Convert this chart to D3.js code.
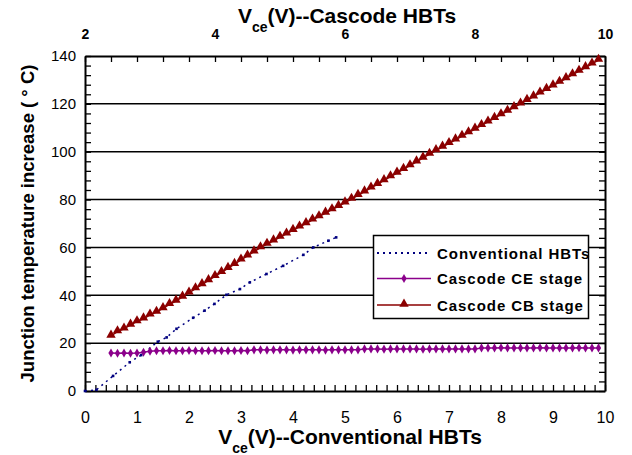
<!DOCTYPE html>
<html>
<head>
<meta charset="utf-8">
<script src="https://cdn.jsdelivr.net/npm/d3@7"></script>
<style>
  body { margin: 0; background: #fff; }
  svg { font-family: "Liberation Sans", Arial, sans-serif; }
</style>
</head>
<body>
<svg id="chart" width="632" height="455"></svg>
<script>
// conventional HBTs, plotted on bottom axis
var convVce  = [0, 0.22, 0.54, 0.86, 1.08, 1.4, 1.57, 1.76, 2.08, 2.3, 2.49, 2.72, 2.98, 3.17, 3.49, 3.81, 4.2, 4.39, 4.68, 4.83];
var convTemp = [0, 0.5, 6.3, 12, 15, 20.6, 22.4, 26, 30.6, 33.6, 36.4, 40.2, 42.6, 45.4, 48.9, 52.3, 56.9, 60, 62.8, 64.2];

// cascode HBTs, plotted on top axis
var cascVce = [2.4, 2.5, 2.6, 2.7, 2.8, 2.9, 3.0, 3.1, 3.2, 3.3, 3.4, 3.5,
  3.6, 3.7, 3.8, 3.9, 4.0, 4.1, 4.2, 4.3, 4.4, 4.5, 4.6, 4.7,
  4.8, 4.9, 5.0, 5.1, 5.2, 5.3, 5.4, 5.5, 5.6, 5.7, 5.8, 5.9,
  6.0, 6.1, 6.2, 6.3, 6.4, 6.5, 6.6, 6.7, 6.8, 6.9, 7.0, 7.1,
  7.2, 7.3, 7.4, 7.5, 7.6, 7.7, 7.8, 7.9, 8.0, 8.1, 8.2, 8.3,
  8.4, 8.5, 8.6, 8.7, 8.8, 8.9, 9.0, 9.1, 9.2, 9.3, 9.4, 9.5,
  9.6, 9.7, 9.8, 9.9];
var ceTemp = [15.9, 15.8, 15.9, 15.8, 15.9, 16.2, 16.6, 16.8,
  16.8, 16.9, 16.8, 16.8, 16.9, 16.8, 16.8, 16.8, 16.9, 16.8, 16.8, 16.8, 16.9, 16.8,
  17.2, 17.2, 17.1, 17.2, 17.2, 17.2, 17.1, 17.2, 17.2, 17.2, 17.2, 17.1, 17.2, 17.2, 17.2, 17.2, 17.2,
  17.6, 17.6, 17.6, 17.5, 17.6, 17.6, 17.6, 17.6, 17.6, 17.5, 17.6, 17.6, 17.6, 17.6, 17.6, 17.6, 17.6, 17.6,
  18.0, 18.0, 18.0, 18.1, 18.0, 18.0, 18.0, 18.0, 18.0, 18.1, 18.0, 18.0, 18.0, 18.0, 18.0, 18.1, 18.0, 18.0, 18.0];
var cbTemp = [23.0, 24.8, 26.0, 27.6, 29.0, 30.2, 31.8, 33.0, 34.5, 36.2, 37.6, 39.3,
  41.0, 42.8, 44.5, 46.2, 47.9, 49.6, 51.3, 53.0, 54.8, 56.5, 58.2, 59.9,
  61.4, 62.8, 64.3, 65.7, 67.2, 68.6, 70.0, 71.5, 72.9, 74.4, 75.8, 77.2,
  78.7, 80.2, 81.8, 83.3, 84.9, 86.4, 88.0, 89.6, 91.1, 92.7, 94.2, 95.8,
  97.4, 99.0, 100.5, 102.0, 103.5, 105.0, 106.5, 108.0, 109.5, 111.0, 112.5, 114.0,
  115.5, 117.0, 118.5, 120.0, 121.5, 123.0, 124.6, 126.1, 127.6, 129.1, 130.6, 132.2,
  133.7, 135.2, 136.7, 138.3];

var bottomTicks = [0, 1, 2, 3, 4, 5, 6, 7, 8, 9, 10];
var topTicks = [2, 4, 6, 8, 10];
var yTicks = [0, 20, 40, 60, 80, 100, 120, 140];
var gridVals = [20, 40, 60, 80, 100, 120];
var legendNames = ["Conventional HBTs", "Cascode CE stage", "Cascode CB stage"];

var svg = d3.select("#chart");
var L = 85, R = 605, T = 56, B = 391;

var x = d3.scaleLinear().domain([0, 10]).range([L, R]);
var xTop = d3.scaleLinear().domain([2, 10]).range([L, R]);
var y = d3.scaleLinear().domain([0, 140]).range([B, T]);

// grid lines
svg.append("g").selectAll("line")
  .data(gridVals)
  .enter().append("line")
    .attr("x1", L).attr("x2", R)
    .attr("y1", function(d){ return y(d); })
    .attr("y2", function(d){ return y(d); })
    .attr("stroke", "#000")
    .attr("stroke-width", 1.5);

// minor tick lists (inward ticks)
var bottomMinor = d3.range(0, 10.001, 0.2);
var topMinor = d3.range(2, 10.001, 0.4);
var yMinor = d3.range(0, 140.001, 4);

function styleAxis(g){
  g.select(".domain").attr("stroke-width", 2);
  g.selectAll(".tick line").attr("stroke-width", 1.3);
  g.selectAll("text").attr("fill", "#000");
}

var gb = svg.append("g").attr("transform", "translate(0," + B + ")")
  .call(d3.axisBottom(x).tickValues(bottomMinor).tickSizeInner(-6).tickSizeOuter(0).tickPadding(21)
    .tickFormat(function(d){ return bottomTicks.indexOf(Math.round(d*10)/10) >= 0 ? d3.format("d")(d) : ""; }))
  .attr("font-size", 16);
styleAxis(gb);

var gt = svg.append("g").attr("transform", "translate(0," + T + ")")
  .call(d3.axisTop(xTop).tickValues(topMinor).tickSizeInner(-6).tickSizeOuter(0).tickPadding(17)
    .tickFormat(function(d){ return topTicks.indexOf(Math.round(d*10)/10) >= 0 ? d3.format("d")(d) : ""; }))
  .attr("font-size", 14).attr("font-weight", "bold");
styleAxis(gt);

var gl = svg.append("g").attr("transform", "translate(" + L + ",0)")
  .call(d3.axisLeft(y).tickValues(yMinor).tickSizeInner(-6).tickSizeOuter(0).tickPadding(9)
    .tickFormat(function(d){ return yTicks.indexOf(Math.round(d)) >= 0 ? d : ""; }))
  .attr("font-size", 15);
styleAxis(gl);

var gr = svg.append("g").attr("transform", "translate(" + R + ",0)")
  .call(d3.axisRight(y).tickValues(yMinor).tickSizeInner(-6).tickSizeOuter(0).tickFormat(""));
styleAxis(gr);

// conventional HBTs
var convData = convVce.map(function(v, i){ return [v, convTemp[i]]; });
var convLine = d3.line().x(function(d){ return x(d[0]); }).y(function(d){ return y(d[1]); });
svg.append("path").datum(convData)
  .attr("d", convLine)
  .attr("fill", "none").attr("stroke", "#000080")
  .attr("stroke-width", 1.5).attr("stroke-dasharray", "2,4");
svg.append("g").selectAll("rect").data(convData).enter().append("rect")
  .attr("x", function(d){ return x(d[0]) - 1.3; })
  .attr("y", function(d){ return y(d[1]) - 1.3; })
  .attr("width", 2.6).attr("height", 2.6)
  .attr("fill", "#000080");

// cascode series
var ceData = cascVce.map(function(v, i){ return [v, ceTemp[i]]; });
var cbData = cascVce.map(function(v, i){ return [v, cbTemp[i]]; });
var cascLine = d3.line().x(function(d){ return xTop(d[0]); }).y(function(d){ return y(d[1]); });

var ceColor = "#8B008B", cbColor = "#8B0000";
var diamond = d3.symbol().type(d3.symbolDiamond).size(24);
var triangle = d3.symbol().type(d3.symbolTriangle).size(38);

svg.append("path").datum(ceData)
  .attr("d", cascLine).attr("fill", "none")
  .attr("stroke", ceColor).attr("stroke-width", 1.5);
svg.append("g").selectAll("path").data(ceData).enter().append("path")
  .attr("d", diamond)
  .attr("transform", function(d){ return "translate(" + xTop(d[0]) + "," + y(d[1]) + ")"; })
  .attr("fill", ceColor);

svg.append("path").datum(cbData)
  .attr("d", cascLine).attr("fill", "none")
  .attr("stroke", cbColor).attr("stroke-width", 1.5);
svg.append("g").selectAll("path").data(cbData).enter().append("path")
  .attr("d", triangle)
  .attr("transform", function(d){ return "translate(" + xTop(d[0]) + "," + (y(d[1]) - 1) + ")"; })
  .attr("fill", cbColor);

// legend
var lg = svg.append("g");
lg.append("rect")
  .attr("x", 373.5).attr("y", 235.5).attr("width", 215).attr("height", 83)
  .attr("fill", "#fff").attr("stroke", "#000").attr("stroke-width", 1.5);
var rowsY = [253, 278.5, 305];
var colors = ["#000080", ceColor, cbColor];
legendNames.forEach(function(name, i){
  var ln = lg.append("line")
    .attr("x1", 377).attr("x2", 431)
    .attr("y1", rowsY[i]).attr("y2", rowsY[i])
    .attr("stroke", colors[i]).attr("stroke-width", i == 0 ? 2 : 1.5);
  if(i == 0) ln.attr("stroke-dasharray", "2,4");
  if(i == 1) lg.append("path").attr("d", diamond).attr("fill", ceColor)
    .attr("transform", "translate(404," + rowsY[i] + ")");
  if(i == 2) lg.append("path").attr("d", triangle).attr("fill", cbColor)
    .attr("transform", "translate(404," + (rowsY[i] - 1) + ")");
  lg.append("text")
    .attr("x", 437).attr("y", rowsY[i] + 5.5)
    .attr("font-size", 15).attr("font-weight", "bold")
    .attr("letter-spacing", 0.95)
    .text(name);
});

// axis titles
function vceTitle(tx, ty, rest, sub){
  var t = svg.append("text")
    .attr("x", tx).attr("y", ty)
    .attr("text-anchor", "middle")
    .attr("font-size", 21).attr("font-weight", "bold");
  t.append("tspan").text("V");
  t.append("tspan").attr("font-size", 14).attr("dy", sub).text("ce");
  t.append("tspan").attr("dy", -sub).text(rest);
}
vceTitle(350, 444, "(V)--Conventional HBTs", 9);
vceTitle(347, 23, "(V)--Cascode HBTs", 8.5);

svg.append("text")
  .attr("transform", "translate(34," + ((T + B) / 2) + ") rotate(-90)")
  .attr("text-anchor", "middle")
  .attr("font-size", 18.5).attr("font-weight", "bold")
  .text("Junction temperature increase ( \u00B0 C)");
</script>
</body>
</html>
